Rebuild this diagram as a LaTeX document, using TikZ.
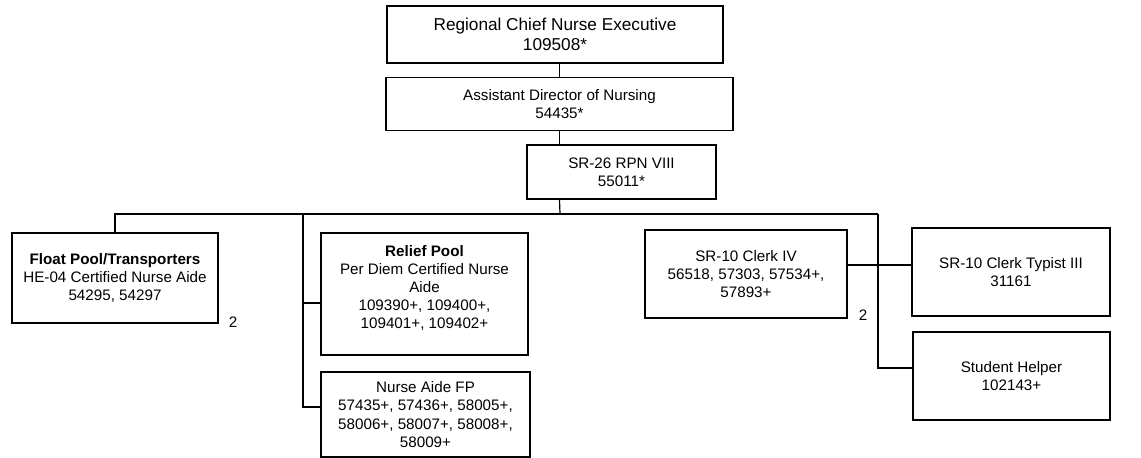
\documentclass[tikz,border=0pt]{standalone}
\usepackage{fontspec}
\setmainfont{Liberation Sans}
\usetikzlibrary{calc}
\begin{document}
\begin{tikzpicture}[x=1pt,y=-1pt,
  box/.style={draw,line width=1.4pt,rectangle,align=center,inner sep=0pt,
    font=\fontsize{15.2}{18.2}\selectfont},
  bigbox/.style={box,font=\fontsize{17.2}{20}\selectfont},
  link/.style={line width=1.2pt},
  cnt/.style={font=\fontsize{15.2}{18}\selectfont}]
\useasboundingbox (0,0) rectangle (1141,458);
\fill[white] (0,0) rectangle (1141,458);
\node[bigbox,minimum width=336pt,minimum height=57pt] (top) at (555,34.5)
  {Regional Chief Nurse Executive\\109508*};
\node[box,minimum width=347pt,minimum height=53pt] (asst) at (559.5,104)
  {Assistant Director of Nursing\\54435*};
\node[box,minimum width=189pt,minimum height=54pt] (sr) at (621.5,172)
  {SR-26 RPN VIII\\55011*};
\node[box,minimum width=206pt,minimum height=90pt] (float) at (115,278)
  {\textbf{Float Pool/Transporters}\\HE-04 Certified Nurse Aide\\54295, 54297};
\node[box,minimum width=207pt,minimum height=122pt,text depth=14pt] (relief) at (424.5,294)
  {\textbf{Relief Pool}\\Per Diem Certified Nurse\\Aide\\109390+, 109400+,\\109401+, 109402+};
\node[box,minimum width=209pt,minimum height=85pt] (fp) at (425.5,414.5)
  {Nurse Aide FP\\57435+, 57436+, 58005+,\\58006+, 58007+, 58008+,\\58009+};
\node[box,minimum width=202pt,minimum height=88pt] (clerk) at (746,274)
  {SR-10 Clerk IV\\56518, 57303, 57534+,\\57893+};
\node[box,minimum width=198pt,minimum height=88pt] (typist) at (1011,272)
  {SR-10 Clerk Typist III\\31161};
\node[box,minimum width=197pt,minimum height=88pt] (student) at (1011.5,376)
  {Student Helper\\102143+};
\node[cnt] (n1) at (233,322) {2};
\node[cnt] (n2) at (863,315) {2};
\coordinate (bus) at (560,214);
\coordinate (busL) at (115,214);
\coordinate (busM) at (303,214);
\coordinate (busR) at (878,214);
\draw[link] (top.south -| asst.north) -- (asst.north);
\draw[link] (asst.south) -- (asst.south |- sr.north);
\draw[link] (asst.south |- sr.south) -- (bus);
\draw[link] (float.north) -- (busL) -- (busR);
\draw[link] (busR) -- ($(busR |- student.west)+(0,-8)$) -- ([yshift=8pt]student.west);
\draw[link] (busM) -- ($(busM |- fp.west)+(0,-7.5)$) -- ([yshift=7.5pt]fp.west);
\draw[link] ($(busM |- relief.west)+(0,9)$) -- ([yshift=-9pt]relief.west);
\draw[link] ([yshift=9pt]clerk.east) -- ([yshift=9pt]clerk.east -| typist.west);
\end{tikzpicture}
\end{document}
